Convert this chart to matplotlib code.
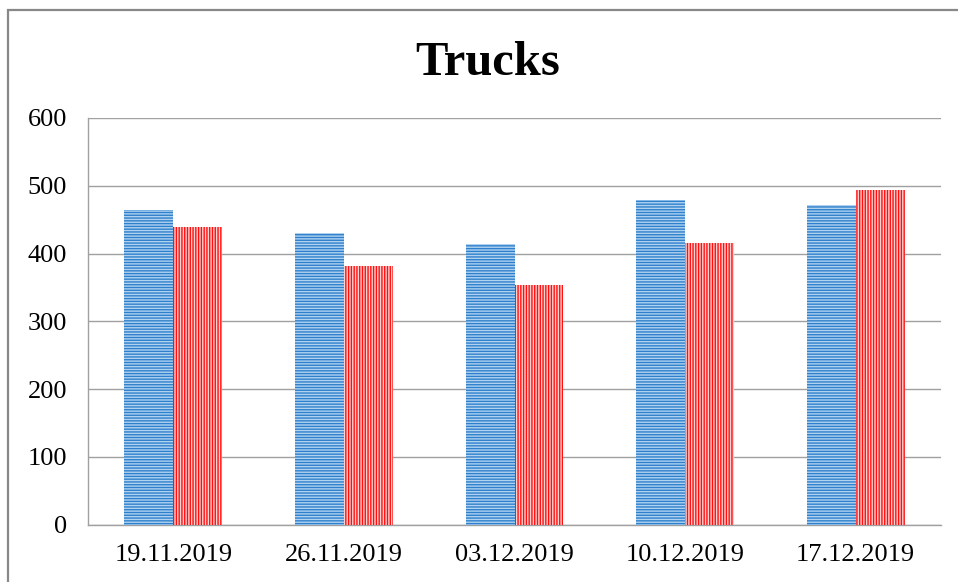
import matplotlib
matplotlib.use("Agg")
import matplotlib.pyplot as plt
import numpy as np
from matplotlib.patches import Rectangle

# Data
categories = ["19.11.2019", "26.11.2019", "03.12.2019", "10.12.2019", "17.12.2019"]
series_blue = [464, 430, 414, 479, 472]
series_red = [439, 382, 353, 416, 494]
yticks = [0, 100, 200, 300, 400, 500, 600]
title = "Trucks"

plt.rcParams['font.family'] = ['Liberation Serif', 'DejaVu Serif']
plt.rcParams['hatch.linewidth'] = 1.0

fig = plt.figure(figsize=(9.58, 5.82), dpi=100)
ax = fig.add_axes([88/958, 1 - 524.6/582, (941 - 88)/958, (524.6 - 118)/582])

x = np.arange(len(categories))
w = 0.287
ax.bar(x - w/2, series_blue, width=w, facecolor='#b0d2f0', edgecolor='#2f80cc',
       hatch='------', linewidth=0, zorder=3)
ax.bar(x + w/2, series_red, width=w, facecolor='#ffd0d0', edgecolor='#ff1010',
       hatch='||||||', linewidth=0, zorder=3)

ax.set_xlim(-0.5, len(categories) - 0.5)
ax.set_ylim(0, 600)
ax.set_yticks(yticks)
ax.set_yticklabels([str(v) for v in yticks])
ax.set_xticks(x)
ax.set_xticklabels(categories)
ax.tick_params(axis='both', length=0, labelsize=19, colors='black')
ax.tick_params(axis='y', pad=15)
ax.tick_params(axis='x', pad=14)

ax.grid(axis='y', color='#a0a0a0', linewidth=1.0, zorder=0)
ax.set_axisbelow(True)
for s in ['top', 'right']:
    ax.spines[s].set_visible(False)
for s in ['left', 'bottom']:
    ax.spines[s].set_color('#a0a0a0')
    ax.spines[s].set_linewidth(1.0)

fig.text(487.5/958, 1 - 75/582, title, ha='center', va='baseline',
         fontsize=35, fontweight='bold')

border = Rectangle((8/958, -0.1), 1.2, 1.1 - 10/582, transform=fig.transFigure,
                   fill=False, edgecolor='#888888', linewidth=1.6, clip_on=False)
fig.patches.append(border)

fig.savefig("out.png", dpi=100)
